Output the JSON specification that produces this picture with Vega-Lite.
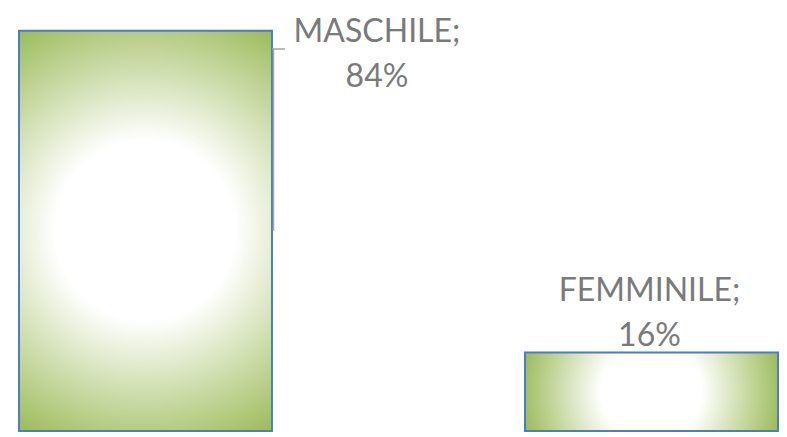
{
  "$schema": "https://vega.github.io/schema/vega-lite/v6.json",
  "autosize": "none",
  "width": 759,
  "height": 431,
  "padding": {"left": 19, "top": 0, "right": 9, "bottom": 6},
  "background": "#ffffff",
  "config": {"view": {"stroke": null}},
  "data": {
    "values": [
      {"genere": "MASCHILE", "quota": 0.836, "etichetta": "MASCHILE;\n84%"},
      {"genere": "FEMMINILE", "quota": 0.164, "etichetta": "FEMMINILE;\n16%"}
    ]
  },
  "encoding": {
    "x": {
      "field": "genere",
      "type": "nominal",
      "sort": ["MASCHILE", "FEMMINILE"],
      "scale": {"paddingInner": 0.5, "paddingOuter": 0},
      "axis": null
    },
    "y": {
      "field": "quota",
      "type": "quantitative",
      "scale": {"domain": [0, 0.9], "nice": false, "zero": true},
      "axis": null
    }
  },
  "layer": [
    {
      "transform": [{"filter": "datum.genere === 'MASCHILE'"}],
      "mark": {
        "type": "bar",
        "stroke": "#4a7ebf",
        "strokeWidth": 2,
        "color": {
          "gradient": "radial",
          "x1": 0.5, "y1": 0.5, "r1": 0,
          "x2": 0.5, "y2": 0.5, "r2": 0.593,
          "stops": [
            {"offset": 0, "color": "#ffffff"},
            {"offset": 0.38, "color": "#ffffff"},
            {"offset": 1, "color": "#9bbb59"}
          ]
        }
      }
    },
    {
      "transform": [{"filter": "datum.genere === 'FEMMINILE'"}],
      "mark": {
        "type": "bar",
        "stroke": "#4a7ebf",
        "strokeWidth": 2,
        "color": {
          "gradient": "radial",
          "x1": 0.5, "y1": 0.5, "r1": 0,
          "x2": 0.5, "y2": 0.5, "r2": 0.522,
          "stops": [
            {"offset": 0, "color": "#ffffff"},
            {"offset": 0.38, "color": "#ffffff"},
            {"offset": 1, "color": "#9bbb59"}
          ]
        }
      }
    },
    {
      "transform": [{"filter": "datum.genere === 'MASCHILE'"}],
      "mark": {"type": "rule", "color": "#a6a6a6", "strokeWidth": 1.5, "xOffset": 1.5},
      "encoding": {
        "x": {"field": "genere", "type": "nominal", "bandPosition": 1},
        "y": {"datum": 0.7977},
        "y2": {"datum": 0.418}
      }
    },
    {
      "transform": [{"filter": "datum.genere === 'MASCHILE'"}],
      "mark": {"type": "rule", "color": "#a6a6a6", "strokeWidth": 1.5, "x2Offset": 13},
      "encoding": {
        "x": {"field": "genere", "type": "nominal", "bandPosition": 1},
        "x2": {"field": "genere", "bandPosition": 1},
        "y": {"datum": 0.7977}
      }
    },
    {
      "transform": [{"filter": "datum.genere === 'MASCHILE'"}],
      "mark": {
        "type": "text",
        "font": "Lato",
        "fontSize": 32,
        "color": "#7a7a7a",
        "align": "center",
        "baseline": "alphabetic",
        "lineBreak": "\n",
        "lineHeight": 45,
        "dx": 231.5,
        "dy": 11
      },
      "encoding": {"text": {"field": "etichetta"}}
    },
    {
      "transform": [{"filter": "datum.genere === 'FEMMINILE'"}],
      "mark": {
        "type": "text",
        "font": "Lato",
        "fontSize": 32,
        "color": "#7a7a7a",
        "align": "center",
        "baseline": "alphabetic",
        "lineBreak": "\n",
        "lineHeight": 45,
        "dx": -2,
        "dy": -51
      },
      "encoding": {"text": {"field": "etichetta"}}
    }
  ]
}
